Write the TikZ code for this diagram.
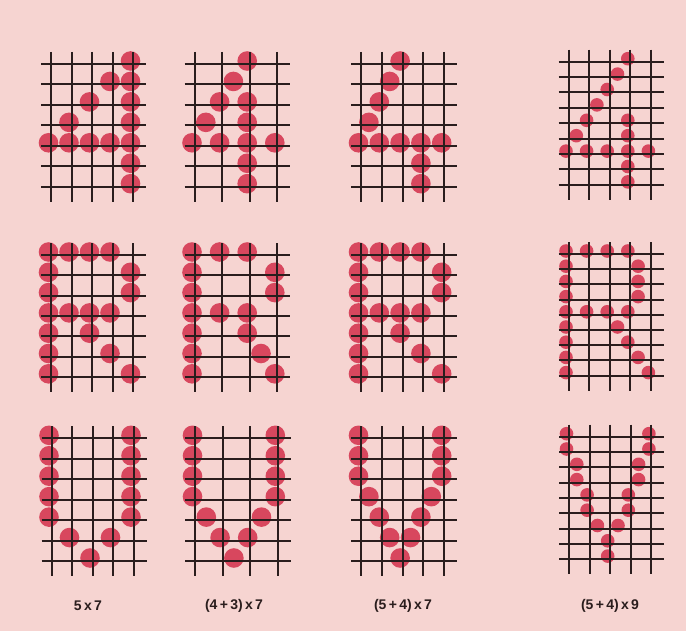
\documentclass[tikz,border=0pt]{standalone}
\usepackage{fontspec}
\setmainfont{Liberation Sans}
\definecolor{paper}{HTML}{F6D4D1}
\definecolor{dotc}{HTML}{D8475E}
\definecolor{ink}{HTML}{2A1D1D}
\tikzset{
  gridln/.style={draw=ink,line width=1pt},
  dotfill/.style={fill=dotc},
  lab/.style={font=\fontsize{7}{9}\selectfont\bfseries,text=ink,inner sep=1pt},
}
% #1,#2 first crossing; #3,#4 pitch; #5,#6 last column/row; #7 dot radius; #8 dots (col/row)
\newcommand{\glyph}[8]{%
  \foreach \c/\r in {#8}
    \fill[dotfill] ({#1+\c*#3-2.5},{#2+\r*#4-3}) circle ({#7});
  \foreach \i in {0,...,#5}
    \draw[gridln] ({round(#1+\i*#3)},{#2-12}) -- ({round(#1+\i*#3)},{#2+#6*#4+15});
  \foreach \j in {0,...,#6}
    \draw[gridln] ({#1-10},{round(#2+\j*#4)}) -- ({#1+#5*#3+13},{round(#2+\j*#4)});
}

\begin{document}
\begin{tikzpicture}[x=0.5pt,y=-0.5pt]
\useasboundingbox (0,0) rectangle (686,631);
\fill[paper] (0,0) rectangle (686,631);
% top row: the digit 4
\glyph{51}{64}{20.5}{20.45}{4}{6}{9.8}{4/0,3/1,4/1,2/2,4/2,1/3,4/3,0/4,1/4,2/4,3/4,4/4,4/5,4/6}
\glyph{194.5}{64}{27.6}{20.45}{3}{6}{9.8}{2/0,1.5/1,1/2,2/2,0.5/3,2/3,0/4,1/4,2/4,3/4,2/5,2/6}
\glyph{361}{64}{20.8}{20.45}{4}{6}{9.8}{2/0,1.5/1,1/2,0.5/3,0/4,1/4,2/4,3/4,4/4,3/5,3/6}
\glyph{568.5}{61.7}{20.6}{15.4}{4}{8}{6.8}{3/0,2.5/1,2/2,1.5/3,1/4,3/4,0.5/5,3/5,0/6,1/6,2/6,3/6,4/6,3/7,3/8}
% middle row: the letter R
\glyph{51}{255}{20.5}{20.3}{4}{6}{9.8}{0/0,1/0,2/0,3/0,0/1,4/1,0/2,4/2,0/3,1/3,2/3,3/3,0/4,2/4,0/5,3/5,0/6,4/6}
\glyph{194.5}{255}{27.6}{20.3}{3}{6}{9.8}{0/0,1/0,2/0,0/1,3/1,0/2,3/2,0/3,1/3,2/3,0/4,2/4,0/5,2.5/5,0/6,3/6}
\glyph{361}{255}{20.8}{20.3}{4}{6}{9.8}{0/0,1/0,2/0,3/0,0/1,4/1,0/2,4/2,0/3,1/3,2/3,3/3,0/4,2/4,0/5,3/5,0/6,4/6}
\glyph{568.5}{254}{20.6}{15.2}{4}{8}{6.8}{0/0,1/0,2/0,3/0,0/1,3.5/1,0/2,3.5/2,0/3,3.5/3,0/4,1/4,2/4,3/4,0/5,2.5/5,0/6,3/6,0/7,3.5/7,0/8,4/8}
% bottom row: the letter V
\glyph{51.5}{438.3}{20.5}{20.45}{4}{6}{9.8}{0/0,0/1,0/2,0/3,0/4,4/0,4/1,4/2,4/3,4/4,1/5,3/5,2/6}
\glyph{195}{438.3}{27.6}{20.45}{3}{6}{9.8}{0/0,0/1,0/2,0/3,3/0,3/1,3/2,3/3,0.5/4,2.5/4,1/5,2/5,1.5/6}
\glyph{361}{438.3}{20.8}{20.45}{4}{6}{9.8}{0/0,0/1,0/2,4/0,4/1,4/2,0.5/3,3.5/3,1/4,3/4,1.5/5,2.5/5,2/6}
\glyph{569}{436.7}{20.6}{15.3}{4}{8}{6.8}{0/0,0/1,4/0,4/1,0.5/2,0.5/3,3.5/2,3.5/3,1/4,1/5,3/4,3/5,1.5/6,2.5/6,2/7,2/8}
% captions
\node[lab] (lab57) at (88,606) {5\,x\,7};
\node[lab] (lab437) at (234,606) {(4\,+\,3)\,x\,7};
\node[lab] (lab547) at (403,606) {(5\,+\,4)\,x\,7};
\node[lab] (lab549) at (610,606) {(5\,+\,4)\,x\,9};
\end{tikzpicture}
\end{document}
